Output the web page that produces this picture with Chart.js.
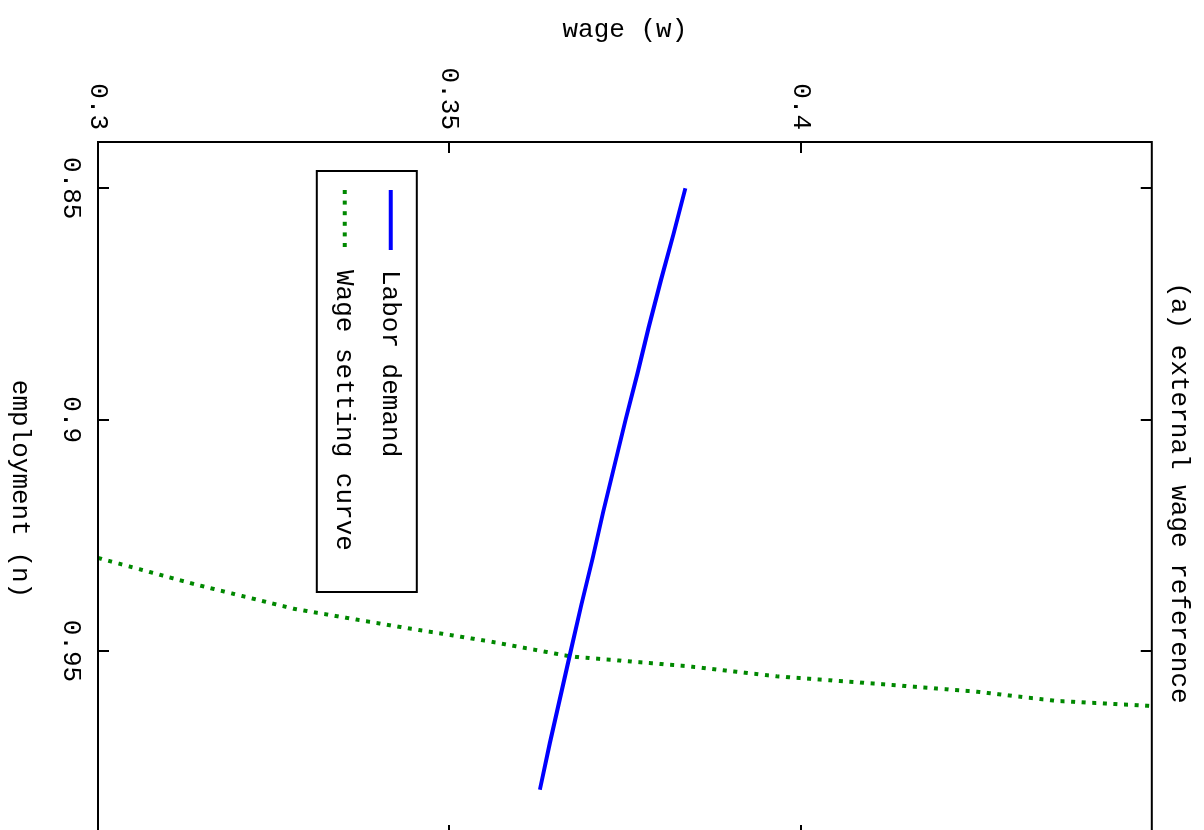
<!DOCTYPE html>
<html>
<head>
<meta charset="utf-8">
<script src="https://cdn.jsdelivr.net/npm/chart.js@4/dist/chart.umd.min.js"></script>
<style>
  html, body { margin: 0; padding: 0; width: 1204px; height: 830px; overflow: hidden; background: #fff; }
  /* the plot is drawn upright and then turned a quarter turn clockwise */
  #frame { position: absolute; left: 0; top: 0; width: 986px; height: 1204px;
           transform-origin: 0 0; transform: translate(1204px, 0) rotate(90deg); }
  canvas { display: block; }
</style>
</head>
<body>
<div id="frame"><canvas id="chart" width="986" height="1204"></canvas></div>
<script>
// Labor demand: wage paid at each employment level
const demandEmployment = [0.85, 0.86, 0.87, 0.88, 0.89, 0.90, 0.91, 0.92, 0.93, 0.94, 0.95, 0.96, 0.97, 0.98];
const demandWage       = [0.3836, 0.3819, 0.3801, 0.3784, 0.3768, 0.3751, 0.3735, 0.3719, 0.3704, 0.3688, 0.3673, 0.3658, 0.3643, 0.3629];

// Wage setting curve
const settingEmployment = [0.9299, 0.9356, 0.9409, 0.9446, 0.9479, 0.9512, 0.9533, 0.9555, 0.9571, 0.9588, 0.9608, 0.9619];
const settingWage       = [0.3000, 0.3138, 0.3279, 0.3421, 0.3556, 0.3673, 0.3839, 0.3967, 0.4109, 0.4250, 0.4364, 0.4500];

const employmentTicks = [0.85, 0.9, 0.95];
const wageTicks = [0.3, 0.35, 0.4];
const employmentRange = [0.84, 0.99];
const wageRange = [0.3, 0.45];

const seriesNames = ['Labor demand', 'Wage setting curve'];
const FONT = { family: '"Liberation Mono", "DejaVu Sans Mono", monospace', size: 26, weight: 'normal' };

const toPoints = (xs, ys) => xs.map((x, i) => ({ x, y: ys[i] }));

// border, mirrored inward tick marks and the boxed key
const framePlugin = {
  id: 'frame',
  afterDraw(chart) {
    const { ctx, chartArea: a, scales: { x, y } } = chart;
    ctx.save();
    ctx.strokeStyle = '#000';
    ctx.lineWidth = 2;
    ctx.lineCap = 'butt';
    ctx.beginPath();
    const len = 11;
    employmentTicks.forEach(v => {
      const px = Math.round(x.getPixelForValue(v));
      ctx.moveTo(px, a.bottom); ctx.lineTo(px, a.bottom - len);
      ctx.moveTo(px, a.top);    ctx.lineTo(px, a.top + len);
    });
    wageTicks.forEach(v => {
      const py = Math.round(y.getPixelForValue(v));
      ctx.moveTo(a.left, py);  ctx.lineTo(a.left + len, py);
      ctx.moveTo(a.right, py); ctx.lineTo(a.right - len, py);
    });
    ctx.stroke();
    ctx.strokeRect(a.left, a.top, a.width, a.height);

    // key
    const kx = a.left + 29, ky = a.top + 735, kw = 421, kh = 100;
    ctx.fillStyle = '#fff';
    ctx.fillRect(kx, ky, kw, kh);
    ctx.strokeRect(kx, ky, kw, kh);
    ctx.font = `${FONT.size}px ${FONT.family}`;
    ctx.textBaseline = 'middle';
    ctx.textAlign = 'left';
    chart.data.datasets.forEach((ds, i) => {
      const ly = ky + 26 + i * 46;
      ctx.save();
      ctx.strokeStyle = ds.borderColor;
      ctx.lineWidth = ds.borderWidth;
      ctx.setLineDash(ds.borderDash || []);
      ctx.beginPath();
      ctx.moveTo(kx + 19, ly); ctx.lineTo(kx + 79, ly);
      ctx.stroke();
      ctx.restore();
      ctx.fillStyle = '#000';
      ctx.fillText(ds.label, kx + 99, ly + 1);
    });
    ctx.restore();
  }
};

const fixedTicks = values => scale => { scale.ticks = values.map(value => ({ value })); };

new Chart(document.getElementById('chart'), {
  type: 'scatter',
  data: {
    datasets: [
      {
        label: seriesNames[0],
        data: toPoints(demandEmployment, demandWage),
        showLine: true,
        borderColor: '#0000ff',
        borderWidth: 4,
        pointRadius: 0,
        tension: 0
      },
      {
        label: seriesNames[1],
        data: toPoints(settingEmployment, settingWage),
        showLine: true,
        borderColor: '#008800',
        borderWidth: 4,
        borderDash: [4, 6.6],
        borderCapStyle: 'butt',
        pointRadius: 0,
        tension: 0
      }
    ]
  },
  options: {
    responsive: false,
    animation: false,
    devicePixelRatio: 1,
    layout: { padding: 0 },
    plugins: {
      legend: { display: false },
      tooltip: { enabled: false },
      title: {
        display: true,
        text: '(a) external wage reference',
        color: '#000',
        font: FONT,
        padding: { top: 10, bottom: 11 }
      }
    },
    scales: {
      x: {
        type: 'linear',
        min: employmentRange[0],
        max: employmentRange[1],
        afterBuildTicks: fixedTicks(employmentTicks),
        grid: { display: false, drawTicks: false },
        border: { display: false },
        ticks: { color: '#000', font: FONT, padding: 12, maxRotation: 0, autoSkip: false, callback: v => String(v) },
        title: { display: true, text: 'employment (n)', color: '#000', font: FONT, padding: { top: 0, bottom: 4 } },
        afterFit: s => { s.height = 98; }
      },
      y: {
        type: 'linear',
        min: wageRange[0],
        max: wageRange[1],
        afterBuildTicks: fixedTicks(wageTicks),
        grid: { display: false, drawTicks: false },
        border: { display: false },
        ticks: { color: '#000', font: FONT, padding: 12, autoSkip: false, callback: v => String(v) },
        title: { display: true, text: 'wage (w)', color: '#000', font: FONT, padding: { top: 15, bottom: 0 } },
        afterFit: s => { s.width = 142; }
      },
      // empty right margin so the heading stays centred on the whole page
      margin: {
        type: 'linear',
        position: 'right',
        display: true,
        grid: { display: false, drawTicks: false },
        border: { display: false },
        ticks: { display: false },
        afterFit: s => { s.width = 150; }
      }
    }
  },
  plugins: [framePlugin]
});
</script>
</body>
</html>
